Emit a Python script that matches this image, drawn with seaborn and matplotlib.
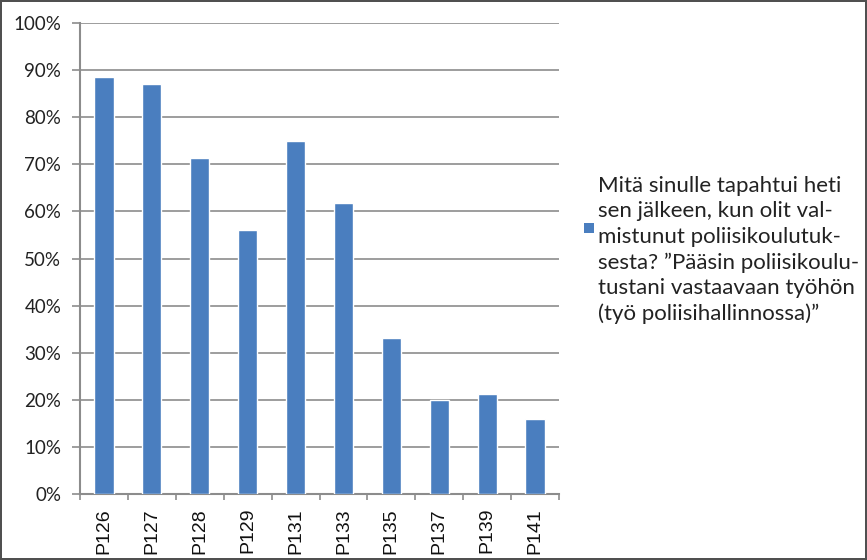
import matplotlib
matplotlib.use('Agg')
import matplotlib.pyplot as plt
import matplotlib.ticker as mticker
from matplotlib.patches import Rectangle
import seaborn as sns
import pandas as pd

categories = ['P126', 'P127', 'P128', 'P129', 'P131', 'P133', 'P135', 'P137', 'P139', 'P141']
values = [88.5, 87.0, 71.3, 56.0, 75.0, 61.8, 33.2, 19.9, 21.2, 15.9]
series_label = ('Mitä sinulle tapahtui heti\nsen jälkeen, kun olit val-\nmistunut poliisikoulutuk-\n'
                'sesta? ”Pääsin poliisikoulu-\ntustani vastaavaan työhön\n(työ poliisihallinnossa)”')

df = pd.DataFrame({'kategoria': categories, 'osuus': values})

sns.set_style('white')
plt.rcParams['font.family'] = ['Lato', 'DejaVu Sans']

fig = plt.figure(figsize=(8.67, 5.6), dpi=100)
fig.patch.set_edgecolor('#505050')
fig.patch.set_linewidth(1.5)
ax = fig.add_axes([80 / 867, 1 - 494 / 560, 479 / 867, 471 / 560])

sns.barplot(data=df, x='kategoria', y='osuus', color='#4a7ebf', width=0.4,
            saturation=1, ax=ax, zorder=3)

ax.set_ylim(0, 100)
ax.set_xlim(-0.5, len(categories) - 0.5)
ax.yaxis.set_major_locator(mticker.MultipleLocator(10))
ax.yaxis.set_major_formatter(mticker.FuncFormatter(lambda v, p: f'{v:.0f}%'))
ax.grid(axis='y', color='#8c8c8c', linewidth=1.2, zorder=0)
ax.set_axisbelow(True)

for s in ['top', 'right']:
    ax.spines[s].set_visible(False)
for s in ['left', 'bottom']:
    ax.spines[s].set_color('#8c8c8c')
    ax.spines[s].set_linewidth(1.5)

ax.set_xlabel('')
ax.set_ylabel('')
ax.tick_params(axis='y', left=True, length=5.5, color='#8c8c8c', width=1.2,
               labelsize=13.5, pad=8, labelcolor='#222222')
ax.tick_params(axis='x', which='major', length=0, pad=10)
ax.set_xticks(range(len(categories)))
ax.set_xticklabels(categories, rotation=90, fontsize=14, color='#111111',
                   family=['Liberation Sans', 'DejaVu Sans'])
ax.set_xticks([i - 0.5 for i in range(len(categories) + 1)], minor=True)
ax.tick_params(axis='x', which='minor', bottom=True, length=4.5, color='#8c8c8c', width=1.2)

# legend drawn by hand: the square sits beside the second line, as in the original
bar_color = ax.patches[0].get_facecolor()
fig.add_artist(Rectangle((584 / 867, 1 - 233 / 560), 10 / 867, 10 / 560,
                         transform=fig.transFigure, facecolor=bar_color, edgecolor='none'))
fig.text(598 / 867, 1 - 176 / 560, series_label, va='top', ha='left',
         fontsize=16, linespacing=1.34, color='#222222')

fig.savefig('out.png', dpi=100)
